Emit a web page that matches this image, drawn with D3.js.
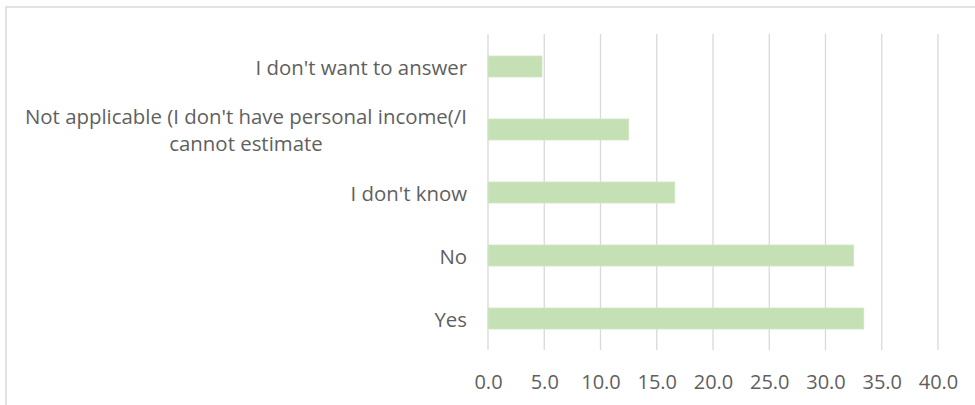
<!DOCTYPE html>
<html>
<head>
<meta charset="utf-8">
<script src="https://cdn.jsdelivr.net/npm/d3@7"></script>
<style>
  html, body { margin: 0; padding: 0; background: #fff; }
  svg { display: block; font-family: "Open Sans", sans-serif; }
</style>
</head>
<body>
<svg id="chart" width="975" height="405"></svg>
<script>
// Answers, top to bottom, with their share (%)
const categories = [
  "I don't want to answer",
  "Not applicable (I don't have personal income(/I\ncannot estimate",
  "I don't know",
  "No",
  "Yes"
];
const values = [4.8, 12.5, 16.6, 32.5, 33.4];
const tickValues = [0, 5, 10, 15, 20, 25, 30, 35, 40];

const svg = d3.select("#chart");
const W = 975, H = 405;
const plot = { left: 488, right: 938, top: 35, bottom: 350 };
const textColor = "#5f5f5f";
const gridColor = "#d9d9d9";

// chart frame
svg.append("rect")
  .attr("x", 6).attr("y", 7)
  .attr("width", W + 10).attr("height", H + 10)
  .attr("fill", "#fff")
  .attr("stroke", "#d9d9d9")
  .attr("stroke-width", 1.5);

const x = d3.scaleLinear().domain([0, 40]).range([plot.left, plot.right]);
const y = d3.scaleBand()
  .domain(categories)
  .range([plot.top, plot.bottom])
  .paddingInner(2 / 3)
  .paddingOuter(1 / 3);

// vertical gridlines
svg.append("g")
  .selectAll("line")
  .data(tickValues)
  .join("line")
  .attr("x1", d => x(d)).attr("x2", d => x(d))
  .attr("y1", plot.top - 1).attr("y2", plot.bottom)
  .attr("stroke", gridColor)
  .attr("stroke-width", 1.3);

// bars
svg.append("g")
  .selectAll("rect")
  .data(values)
  .join("rect")
  .attr("x", x(0))
  .attr("y", (d, i) => y(categories[i]))
  .attr("width", d => x(d) - x(0))
  .attr("height", y.bandwidth())
  .attr("fill", "#c5e0b4")
  .attr("stroke", "#cfe6c0")
  .attr("stroke-width", 0.8);

// value axis
const xAxis = d3.axisBottom(x)
  .tickValues(tickValues)
  .tickFormat(d3.format(".1f"))
  .tickSize(0)
  .tickPadding(0);
const gx = svg.append("g")
  .attr("transform", `translate(0,${plot.bottom})`)
  .call(xAxis);
gx.select(".domain").remove();
gx.selectAll("text")
  .attr("y", 39)
  .attr("dy", 0)
  .attr("fill", textColor)
  .style("font-size", "20px")
  .style("font-family", "'Open Sans', sans-serif");

// category labels, right aligned; wrapped lines centred on each other
const labelRight = 467;
const lg = svg.append("g");
categories.forEach(c => {
  const lines = c.split("\n");
  const cy = y(c) + y.bandwidth() / 2;
  const t = lg.append("text")
    .attr("fill", textColor)
    .style("font-size", "20.4px");
  if (lines.length === 1) {
    t.attr("x", labelRight).attr("y", cy + 8)
      .attr("text-anchor", "end")
      .text(c);
  } else {
    const lh = 27;
    const y0 = cy + 7.5 - lh / 2 * (lines.length - 1);
    const first = t.append("tspan").text(lines[0]);
    const w = first.node().getComputedTextLength();
    const mid = labelRight - w / 2;
    t.attr("text-anchor", "middle");
    first.attr("x", mid).attr("y", y0);
    lines.slice(1).forEach((ln, k) => {
      t.append("tspan").attr("x", mid).attr("y", y0 + lh * (k + 1)).text(ln);
    });
  }
});
</script>
</body>
</html>
